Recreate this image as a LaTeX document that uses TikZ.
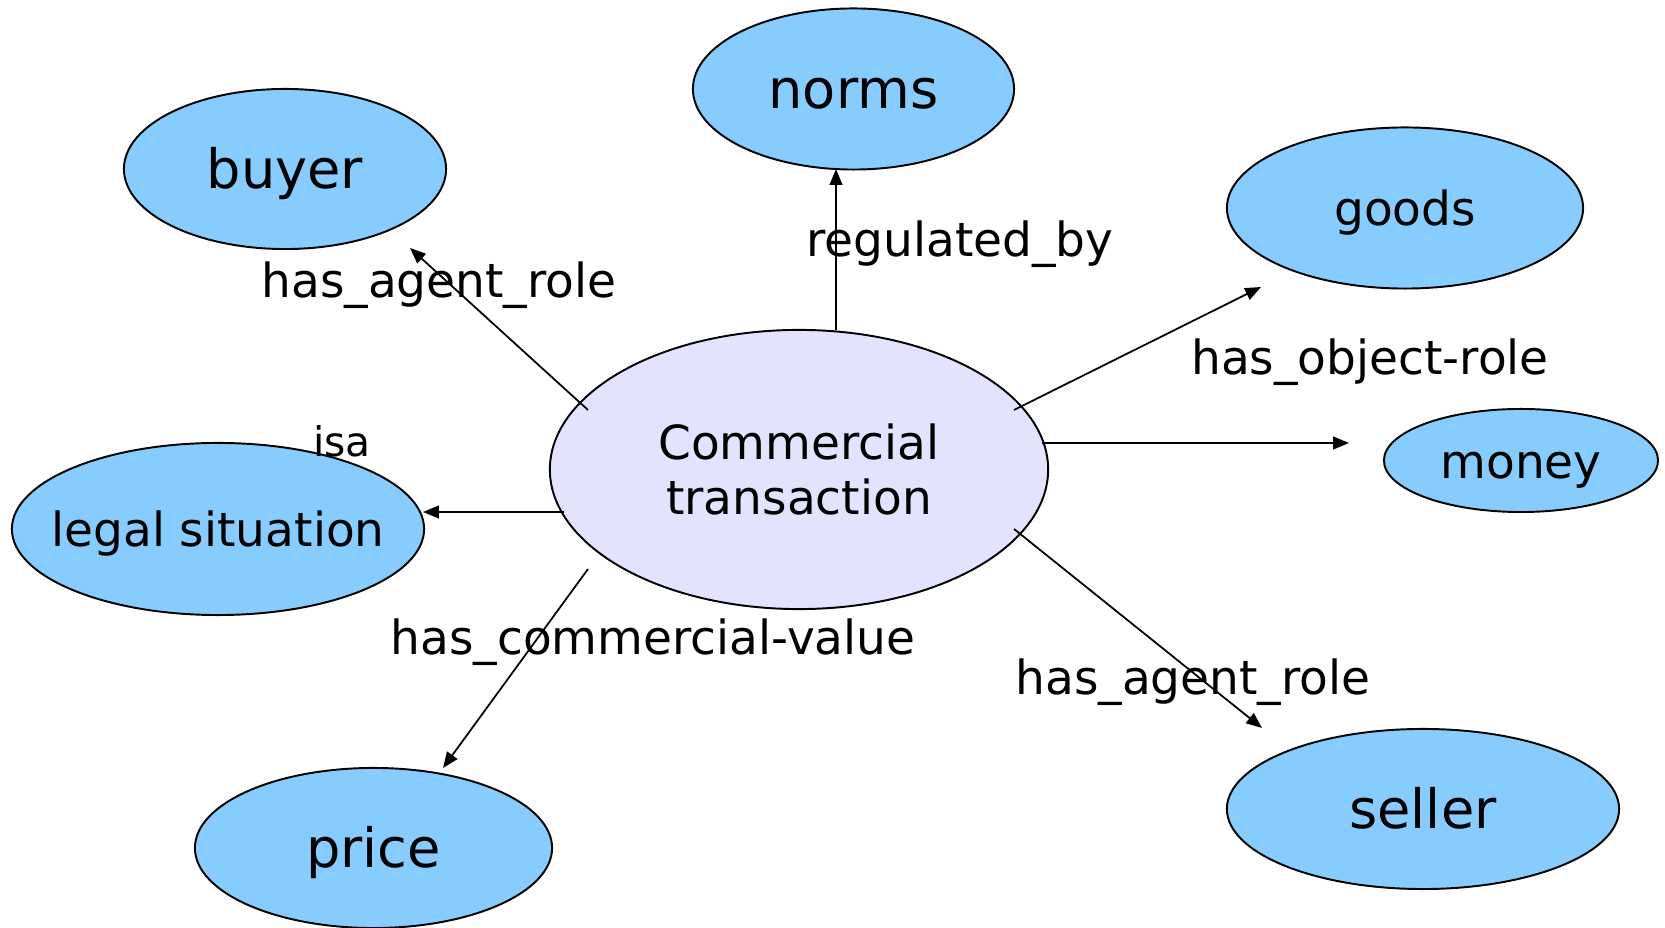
\documentclass[tikz,border=0pt]{standalone}
\usepackage{fontspec}
\setmainfont{DejaVu Sans}
\usetikzlibrary{shapes.geometric,arrows.meta}
\definecolor{nodeblue}{RGB}{135,204,255}
\definecolor{ctfill}{RGB}{227,227,255}
\begin{document}
\begin{tikzpicture}[x=0.01cm,y=-0.01cm,
  concept/.style={ellipse, draw=black, line width=0.55pt, fill=nodeblue, inner sep=0pt},
  bigtext/.style={font=\fontsize{15.4}{18}\selectfont, text height=13.2pt, text depth=2pt},
  midtext/.style={font=\fontsize{13.37}{16}\selectfont, text height=11.6pt, text depth=1.6pt},
  rel/.style={-{Triangle[length=4.5pt,width=3.6pt]}, line width=0.5pt},
  lbl/.style={anchor=base, font=\fontsize{13.37}{16}\selectfont, inner sep=0pt}]
\useasboundingbox (0,0) rectangle (1665,928);
% concept nodes
\node[concept, bigtext, minimum width=3.22cm, minimum height=1.6cm] (buyer) at (285,169) {buyer};
\node[concept, bigtext, minimum width=3.21cm, minimum height=1.61cm] (norms) at (853.5,89) {norms};
\node[concept, midtext, minimum width=3.56cm, minimum height=1.61cm] (goods) at (1405,208) {goods};
\node[concept, midtext, minimum width=2.74cm, minimum height=1.03cm] (money) at (1521,460.5) {money};
\node[concept, midtext, minimum width=4.12cm, minimum height=1.72cm] (legal) at (218,529) {\makebox[0pt]{legal situation}};
\node[ellipse, draw=black, fill=ctfill, line width=0.55pt, inner sep=0pt,
      minimum width=4.98cm, minimum height=2.79cm, align=center,
      font=\fontsize{13.37}{15.9}\selectfont] (ct) at (799,469.5) {Commercial\\transaction};
\node[concept, bigtext, minimum width=3.57cm, minimum height=1.6cm] (price) at (373.5,848) {price};
\node[concept, bigtext, minimum width=3.92cm, minimum height=1.6cm] (seller) at (1423,809) {seller};
% connector ends
\coordinate (ct-buyer) at (588,410);   \coordinate (buyer-in) at (410,248);
\coordinate (ct-norms) at (836,330);   \coordinate (norms-in) at (836,169);
\coordinate (ct-goods) at (1014,410);  \coordinate (goods-in) at (1261,287);
\coordinate (ct-money) at (1042,443);  \coordinate (money-in) at (1349,443);
\coordinate (ct-legal) at (564,512);   \coordinate (legal-in) at (423,512);
\coordinate (ct-price) at (588,569);   \coordinate (price-in) at (443,768);
\coordinate (ct-seller) at (1014,529); \coordinate (seller-in) at (1262,728);
% connectors
\draw[rel] (ct-buyer) -- (buyer-in);
\draw[rel] (ct-norms) -- (norms-in);
\draw[rel] (ct-goods) -- (goods-in);
\draw[rel] (ct-money) -- (money-in);
\draw[rel] (ct-legal) -- (legal-in);
\draw[rel] (ct-price) -- (price-in);
\draw[rel] (ct-seller) -- (seller-in);
% labels
\node[lbl] (l-buyer) at (439,297.7) {has\_agent\_role};
\node[lbl] (l-norms) at (960,257) {regulated\_by};
\node[lbl] (l-goods) at (1370,375) {has\_object-role};
\node[lbl, font=\fontsize{11.6}{13}\selectfont] (l-legal) at (342,456.7) {isa};
\node[lbl] (l-price) at (653,654.7) {has\_commercial-value};
\node[lbl] (l-seller) at (1193,695) {has\_agent\_role};
\end{tikzpicture}
\end{document}
